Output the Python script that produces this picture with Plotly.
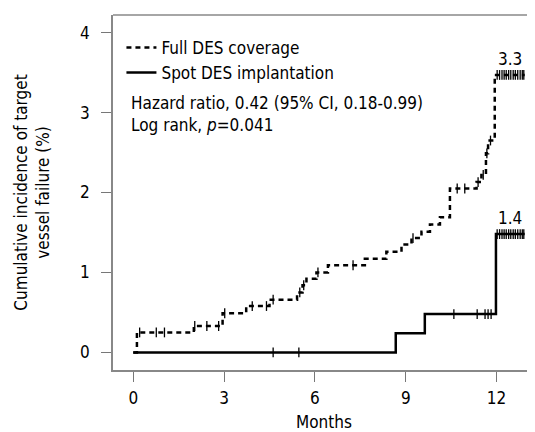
import plotly.graph_objects as go

# ---- data ----
full_times = [0, 0.12, 2.0, 2.95, 3.73, 4.5, 5.41, 5.59, 5.72, 6.05, 6.43, 7.65, 8.36,
              8.86, 9.19, 9.52, 9.8, 10.13, 10.46, 11.34, 11.5, 11.65, 11.72, 11.94, 12.93]
full_values = [0, 0.25, 0.33, 0.49, 0.58, 0.66, 0.75, 0.84, 0.92, 1.0, 1.09, 1.17, 1.26,
               1.35, 1.43, 1.51, 1.60, 1.69, 2.05, 2.13, 2.22, 2.49, 2.65, 3.47, 3.47]
full_censor = [0.21, 0.76, 1.03, 2.03, 2.43, 2.82, 3.02, 3.93, 4.4, 4.62, 5.5, 5.63, 6.1,
               7.26, 9.24, 10.7, 10.95, 11.39, 11.56, 11.68, 11.8,
               12.02, 12.1, 12.18, 12.25, 12.32, 12.4, 12.47, 12.55, 12.62, 12.7, 12.78, 12.85, 12.9]

spot_times = [0, 8.67, 9.63, 11.98, 12.93]
spot_values = [0, 0.24, 0.48, 1.48, 1.48]
spot_censor = [4.62, 5.47, 10.59, 11.36, 11.62, 11.72, 11.82,
               12.02, 12.1, 12.18, 12.25, 12.32, 12.4, 12.47, 12.55, 12.62, 12.7, 12.78, 12.85, 12.9]

x_ticks = [0, 3, 6, 9, 12]
y_ticks = [0, 1, 2, 3, 4]
end_labels = ["3.3", "1.4"]

FONT = "DejaVu Sans Condensed, DejaVu Sans, sans-serif"
FS = 17


def fnt(size=FS):
    return dict(family=FONT, size=size, color="black")


def step_value(times, values, t):
    v = values[0]
    for tt, vv in zip(times, values):
        if tt <= t:
            v = vv
    return v


fig = go.Figure()
fig.add_trace(go.Scatter(x=full_times, y=full_values, mode="lines", line_shape="hv",
                         line=dict(color="black", width=2.5, dash="5px,4px"),
                         name="Full DES coverage"))
fig.add_trace(go.Scatter(x=spot_times, y=spot_values, mode="lines", line_shape="hv",
                         line=dict(color="black", width=2.5),
                         name="Spot DES implantation"))
fig.add_trace(go.Scatter(x=full_censor, y=[step_value(full_times, full_values, t) for t in full_censor],
                         mode="markers", showlegend=False,
                         marker=dict(symbol="line-ns", size=7, line=dict(color="black", width=1.3))))
fig.add_trace(go.Scatter(x=spot_censor, y=[step_value(spot_times, spot_values, t) for t in spot_censor],
                         mode="markers", showlegend=False,
                         marker=dict(symbol="line-ns", size=7, line=dict(color="black", width=1.3))))

fig.add_annotation(x=12.45, y=full_values[-1], yshift=16, text=end_labels[0], showarrow=False,
                   font=fnt())
fig.add_annotation(x=12.45, y=spot_values[-1], yshift=16, text=end_labels[1], showarrow=False,
                   font=fnt())

fig.add_annotation(xref="paper", yref="paper", x=0.038, y=0.752, xanchor="left", yanchor="middle",
                   text="Hazard ratio, 0.42 (95% CI, 0.18-0.99)", showarrow=False, font=fnt())
fig.add_annotation(xref="paper", yref="paper", x=0.038, y=0.69, xanchor="left", yanchor="middle",
                   text="Log rank, <i>p</i>=0.041", showarrow=False, font=fnt())

# axis titles
fig.add_annotation(xref="paper", yref="paper", x=-0.194, y=0.5, xanchor="center", yanchor="middle",
                   text="Cumulative incidence of target<br>vessel failure (%)", textangle=-90,
                   showarrow=False, font=fnt())
fig.add_annotation(xref="paper", yref="paper", x=0.5, y=-0.146, xanchor="center", yanchor="middle",
                   text="Months", showarrow=False, font=fnt())

# top frame line
fig.add_shape(type="line", xref="paper", yref="paper", x0=0, x1=1, y0=1, y1=1,
              line=dict(color="#888888", width=1.5))

fig.update_layout(
    width=535, height=432,
    margin=dict(l=105, r=8, t=7, b=70),
    paper_bgcolor="white", plot_bgcolor="white",
    font=fnt(),
    showlegend=True,
    legend=dict(x=0.02, y=0.958, xanchor="left", yanchor="top", bgcolor="rgba(0,0,0,0)",
                font=fnt(), itemwidth=30, tracegroupgap=0),
    xaxis=dict(range=[-0.67, 13.27], tickvals=x_ticks, ticktext=[str(v) for v in x_ticks],
               showgrid=False, zeroline=False, showline=True, linecolor="#888888", linewidth=1.5,
               ticks="outside", ticklen=10, tickcolor="#777777", tickwidth=1.2,
               ticklabelstandoff=2, automargin=False, tickfont=fnt()),
    yaxis=dict(range=[-0.22, 4.22], tickvals=y_ticks, ticktext=[str(v) for v in y_ticks],
               showgrid=False, zeroline=False, showline=True, linecolor="#888888", linewidth=1.5,
               ticks="outside", ticklen=10, tickcolor="#777777", tickwidth=1.2,
               ticklabelstandoff=8, automargin=False, tickfont=fnt()),
)

fig.write_html("out.html")
